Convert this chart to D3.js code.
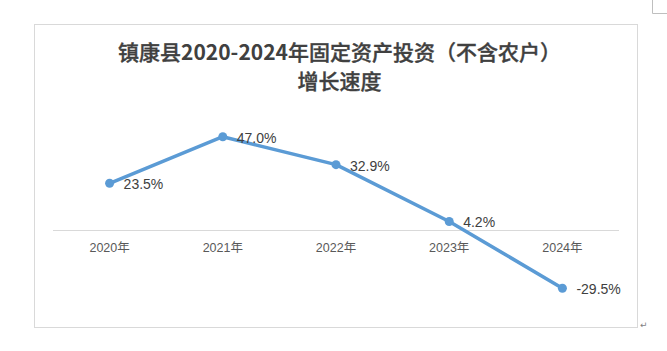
<!DOCTYPE html>
<html>
<head>
<meta charset="utf-8">
<script src="https://cdn.jsdelivr.net/npm/d3@7"></script>
<style>
  body { margin: 0; background: #fff; }
  .cat { font-family: "Liberation Sans", "Noto Sans CJK SC", sans-serif; font-size: 12.5px; fill: #595959; }
  .lbl { font-family: "Liberation Sans", "Noto Sans CJK SC", sans-serif; font-size: 14px; fill: #404040; }
  .title { font-family: "Noto Sans CJK SC", sans-serif; font-size: 21px; fill: #404040; }
</style>
</head>
<body>
<div id="chart"></div>
<script>
// data
var years = ["2020年", "2021年", "2022年", "2023年", "2024年"];
var growth = [23.5, 47.0, 32.9, 4.2, -29.5];
var valueLabels = ["23.5%", "47.0%", "32.9%", "4.2%", "-29.5%"];
// title pieces: [text, bold?]
var titleLine1 = [["镇康县", false], ["2020-2024", true], ["年固定资产投资（不含农户）", false]];
var titleLine2 = [["增长速度", false]];

var W = 667, H = 351;
// the chart frame and plot area
var frame = {left: 34, top: 24, right: 637, bottom: 327};
var plot = {left: 53, right: 619, top: 111, bottom: 309};

var svg = d3.select("#chart")
    .append("svg")
    .attr("width", W)
    .attr("height", H);

// frame
svg.append("rect")
    .attr("x", frame.left + 0.5)
    .attr("y", frame.top + 0.5)
    .attr("width", frame.right - frame.left)
    .attr("height", frame.bottom - frame.top)
    .attr("fill", "#fff")
    .attr("stroke", "#d9d9d9");

// word page corner mark + return mark
svg.append("path")
    .attr("d", "M652.5,0V13.5H667")
    .attr("fill", "none")
    .attr("stroke", "#bfbfbf");
svg.append("text")
    .attr("x", 640).attr("y", 328)
    .style("font-family", "DejaVu Sans")
    .style("font-size", "9px")
    .style("fill", "#7f7f7f")
    .text("↵");

// title
var cx = 339.5;
[titleLine1, titleLine2].forEach(function(parts, i) {
    var t = svg.append("text")
        .attr("class", "title")
        .attr("x", cx)
        .attr("y", 52 + i * 29)
        .attr("dy", "0.36em")
        .style("text-anchor", "middle");
    parts.forEach(function(p) {
        t.append("tspan")
            .style("font-weight", p[1] ? "bold" : "500")
            .style("stroke", p[1] ? "none" : "#404040")
            .style("stroke-width", p[1] ? 0 : 0.35)
            .text(p[0]);
    });
});

var x = d3.scaleBand().domain(years).range([plot.left, plot.right]);
var y = d3.scaleLinear().domain([-40, 60]).range([plot.bottom, plot.top]);

// zero line (category axis)
svg.append("line")
    .attr("x1", plot.left).attr("x2", plot.right)
    .attr("y1", Math.round(y(0)) + 0.5).attr("y2", Math.round(y(0)) + 0.5)
    .attr("stroke", "#d9d9d9")
    .attr("stroke-width", 1);

// category labels sit under the zero line
svg.selectAll(".cat")
    .data(years)
    .enter().append("text")
    .attr("class", "cat")
    .attr("x", function(d) { return x(d) + x.bandwidth() / 2; })
    .attr("y", y(0) + 18)
    .attr("dy", "0.35em")
    .style("text-anchor", "middle")
    .text(function(d) { return d; });

var line = d3.line()
    .x(function(d, i) { return x(years[i]) + x.bandwidth() / 2; })
    .y(function(d) { return y(d); });

svg.append("path")
    .attr("d", line(growth))
    .attr("fill", "none")
    .attr("stroke", "#5b9bd5")
    .attr("stroke-width", 3.5)
    .attr("stroke-linejoin", "round");

svg.selectAll(".dot")
    .data(growth)
    .enter().append("circle")
    .attr("class", "dot")
    .attr("cx", function(d, i) { return x(years[i]) + x.bandwidth() / 2; })
    .attr("cy", function(d) { return y(d); })
    .attr("r", 4.5)
    .attr("fill", "#5b9bd5");

svg.selectAll(".lbl")
    .data(growth)
    .enter().append("text")
    .attr("class", "lbl")
    .attr("x", function(d, i) { return x(years[i]) + x.bandwidth() / 2 + 14; })
    .attr("y", function(d) { return y(d) + 1; })
    .attr("dy", "0.35em")
    .text(function(d, i) { return valueLabels[i]; });
</script>
</body>
</html>
